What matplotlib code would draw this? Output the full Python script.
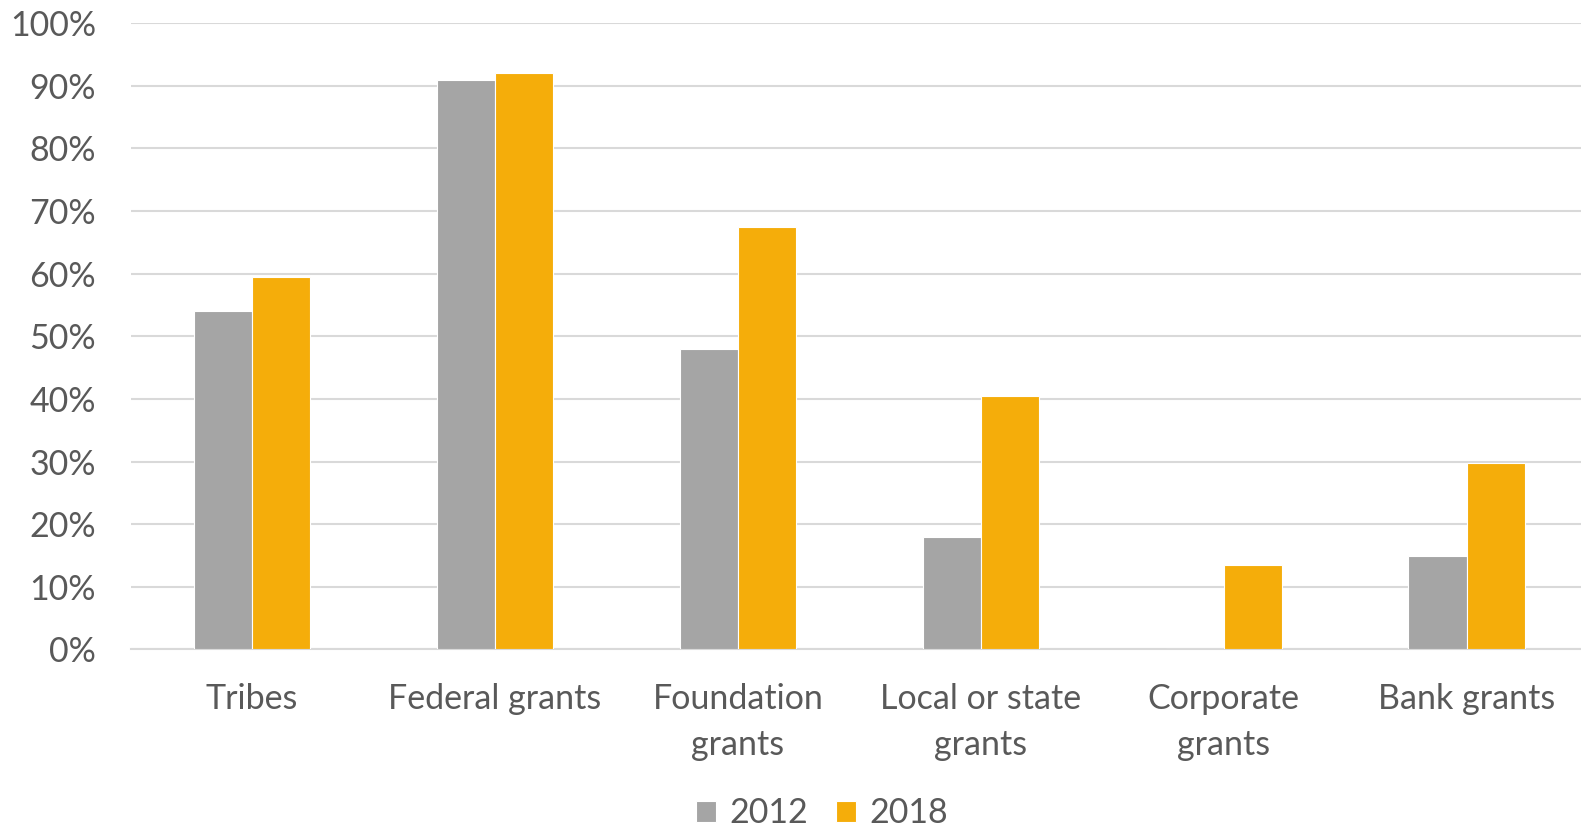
import numpy as np
import matplotlib
matplotlib.use("Agg")
from matplotlib import pyplot as plt
from matplotlib.ticker import PercentFormatter

categories = ["Tribes", "Federal grants", "Foundation\ngrants", "Local or state\ngrants",
              "Corporate\ngrants", "Bank grants"]
vals_2012 = [54, 91, 48, 18, 0, 15]
vals_2018 = [59.5, 92, 67.5, 40.5, 13.5, 29.7]
series_names = ["2012", "2018"]

text_color = "#595959"
plt.rcParams['font.family'] = ['Lato', 'DejaVu Sans']
fs = 24.5

fig = plt.figure(figsize=(15.81, 8.27), dpi=100)
ax = fig.add_axes([0.0826, 0.2147, 0.922, 0.7573])

x = np.arange(len(categories))
w = 0.24
ax.bar(x - w / 2, vals_2012, w, color="#A5A5A5", edgecolor="white", linewidth=0.8,
       label=series_names[0], zorder=3)
ax.bar(x + w / 2, vals_2018, w, color="#F5AD0A", edgecolor="white", linewidth=0.8,
       label=series_names[1], zorder=3)

ax.set_xlim(-0.5, len(categories) - 0.5)
ax.set_ylim(0, 100)
ax.set_yticks(np.arange(0, 101, 10))
ax.yaxis.set_major_formatter(PercentFormatter(decimals=0))
ax.grid(axis="y", color="#D9D9D9", linewidth=1.5, zorder=0)
for s in ["top", "right", "left"]:
    ax.spines[s].set_visible(False)
ax.spines["bottom"].set_color("#D9D9D9")
ax.spines["bottom"].set_linewidth(1.5)

ax.set_xticks(x)
ax.set_xticklabels(categories, fontsize=fs, color=text_color, linespacing=1.55)
ax.tick_params(axis="x", length=0, pad=24)
ax.tick_params(axis="y", length=0, pad=25, labelsize=fs, labelcolor=text_color)

leg = fig.legend(loc="lower center", bbox_to_anchor=(0.52, -0.04), ncol=2, frameon=False,
                 fontsize=fs, handlelength=0.6, handleheight=0.6, columnspacing=0.8,
                 handletextpad=0.4)
for t in leg.get_texts():
    t.set_color(text_color)

fig.savefig("out.png", dpi=100)
